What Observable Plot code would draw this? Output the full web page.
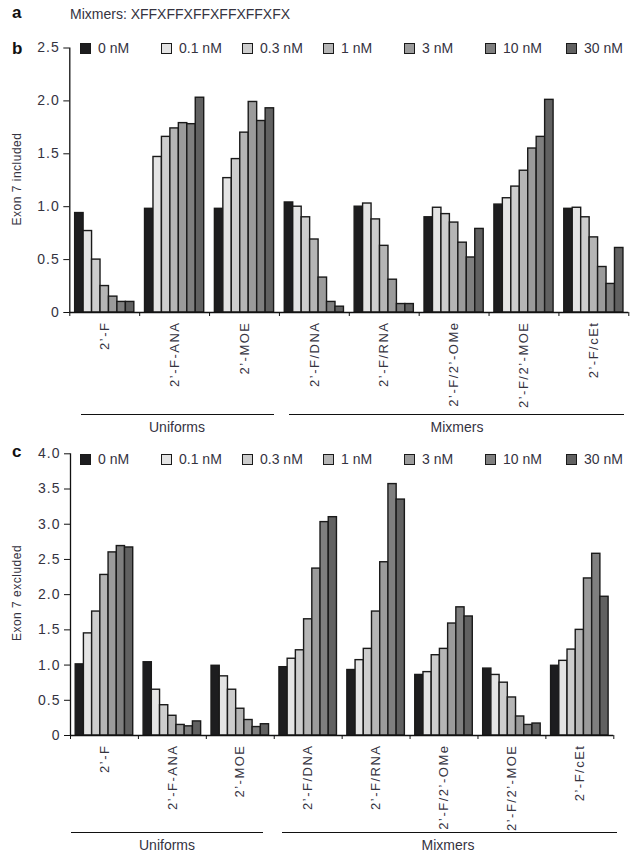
<!DOCTYPE html>
<html><head><meta charset="utf-8">
<script src="https://cdn.jsdelivr.net/npm/d3@7"></script>
<script src="https://cdn.jsdelivr.net/npm/@observablehq/plot@0.6"></script>
<style>
body{margin:0;background:#fff;}
#wrap{position:relative;width:639px;height:858px;font-family:"Liberation Sans",Arial,sans-serif;color:#35333f;overflow:hidden;background:#fff}
.abs{position:absolute;white-space:nowrap;line-height:1}
.panel{position:absolute;left:0}
.legend{position:absolute;left:80px;display:flex;font-size:14px;line-height:14px;color:#35333f}
.legend .item{width:81px;display:flex;align-items:center}
.legend .sw{width:9px;height:9px;border:1px solid #1a1a1a;margin-right:7px;flex:none}
.ytitle{position:absolute;font-size:12px;letter-spacing:0.5px;white-space:nowrap;transform:translate(-50%,-50%) rotate(-90deg)}
.bracket{position:absolute;border-top:1.5px solid #111;height:0}
.btext{position:absolute;font-size:14px;white-space:nowrap;transform:translate(-50%,-50%)}
.plab{font-weight:bold;font-size:17px;color:#111}
g[aria-label="x-axis tick label"] text{letter-spacing:1.5px}
g[aria-label="y-axis tick label"] text{letter-spacing:1px}
</style>
</head><body>
<div id="wrap"></div>
<script>
// ---- data ----
const groups = ["2’-F","2’-F-ANA","2’-MOE","2’-F/DNA","2’-F/RNA","2’-F/2’-OMe","2’-F/2’-MOE","2’-F/cEt"];
const concentrations = ["0 nM","0.1 nM","0.3 nM","1 nM","3 nM","10 nM","30 nM"];
const concColors = ["#1d1d1f","#e4e4e4","#cdcdcd","#b5b5b5","#9b9b9b","#7f7f7f","#616161"];
const groupSets = ["Uniforms","Mixmers"];
// Exon 7 included (panel b): one row per chemistry, one value per concentration
const includedValues = [
  [0.94,0.77,0.50,0.25,0.15,0.10,0.10],
  [0.98,1.47,1.66,1.74,1.79,1.78,2.03],
  [0.98,1.27,1.45,1.70,1.99,1.81,1.93],
  [1.04,1.00,0.90,0.69,0.33,0.10,0.055],
  [1.00,1.03,0.88,0.63,0.31,0.08,0.08],
  [0.90,0.99,0.93,0.85,0.66,0.52,0.79],
  [1.02,1.08,1.19,1.34,1.55,1.66,2.01],
  [0.98,0.99,0.90,0.71,0.43,0.27,0.61]
];
// Exon 7 excluded (panel c)
const excludedValues = [
  [1.01,1.45,1.76,2.28,2.60,2.69,2.67],
  [1.04,0.65,0.43,0.28,0.15,0.13,0.20],
  [0.99,0.84,0.65,0.38,0.22,0.12,0.16],
  [0.97,1.09,1.21,1.65,2.37,3.03,3.10],
  [0.93,1.07,1.23,1.76,2.46,3.57,3.35],
  [0.86,0.90,1.14,1.23,1.59,1.82,1.69],
  [0.95,0.86,0.75,0.54,0.27,0.15,0.17],
  [0.99,1.06,1.22,1.50,2.23,2.58,1.97]
];
const yTicksIncluded = [0,0.5,1.0,1.5,2.0,2.5];
const yTicksExcluded = [0,0.5,1.0,1.5,2.0,2.5,3.0,3.5,4.0];

// ---- drawing ----
const wrap = document.getElementById("wrap");
const nC = concentrations.length, nG = groups.length;
const barW = 0.121, pad = (1 - nC*barW)/2;
const fmt = d => d === 0 ? "0" : d.toFixed(1);

function rowsFrom(values){
  const rows = [];
  values.forEach((vals, gi) => vals.forEach((v, ci) => rows.push({group: groups[gi], conc: concentrations[ci], gi, ci, value: v})));
  return rows;
}

function makePanel(values, yTicks, opts){
  const ymax = yTicks[yTicks.length-1];
  const boundaries = d3.range(nG+1);
  const centers = groups.map((g,i) => i + 0.5);
  return Plot.plot({
    width: 639, height: opts.height,
    marginTop: opts.mt, marginBottom: opts.mb, marginLeft: opts.ml, marginRight: opts.mr,
    style: {fontFamily: '"Liberation Sans", Arial, sans-serif', fontSize: "13px", color: "#35333f", background: "transparent", overflow: "visible"},
    x: {domain: [0, nG]},
    y: {domain: [0, ymax]},
    color: {domain: concentrations, range: concColors},
    marks: [
      Plot.rectY(rowsFrom(values), {
        x1: d => d.gi + pad + d.ci*barW,
        x2: d => d.gi + pad + (d.ci+1)*barW,
        y1: 0, y2: "value", fill: "conc", stroke: "#1a1a1a", strokeWidth: 1.4
      }),
      Plot.ruleY([0], {stroke: "#111", strokeWidth: 1.5}),
      Plot.ruleX([0], {y1: 0, y2: ymax, stroke: "#111", strokeWidth: 1.3}),
      Plot.axisY({ticks: yTicks, tickFormat: fmt, tickSize: 6, tickPadding: 4, fontSize: 14, label: null, stroke: "#111"}),
      Plot.axisX({ticks: boundaries, tickFormat: () => "", tickSize: 4, label: null, stroke: "#111"}),
      Plot.axisX({ticks: centers, tickFormat: d => groups[Math.floor(d)], tickSize: 0, tickPadding: 9, tickRotate: -90, fontSize: 13, label: null})
    ]
  });
}

function place(el, left, top){ el.style.left = left + "px"; el.style.top = top + "px"; return el; }
function div(cls, text){ const e = document.createElement("div"); e.className = cls; if (text != null) e.textContent = text; wrap.appendChild(e); return e; }

function legend(top){
  const lg = div("legend"); lg.style.top = top + "px";
  concentrations.forEach((c, i) => {
    const it = document.createElement("div"); it.className = "item";
    const sw = document.createElement("span"); sw.className = "sw"; sw.style.background = concColors[i];
    const tx = document.createElement("span"); tx.textContent = c;
    it.appendChild(sw); it.appendChild(tx); lg.appendChild(it);
  });
}

function bracket(x1, x2, y, label, cx){
  const b = div("bracket"); b.style.left = x1 + "px"; b.style.width = (x2 - x1) + "px"; b.style.top = y + "px";
  place(div("btext", label), cx, y + 13);
}

// panel b
const pb = makePanel(includedValues, yTicksIncluded, {height: 440, mt: 47.5, mb: 128, ml: 69.3, mr: 10.7});
pb.classList.add("panel"); pb.style.top = "0px"; wrap.appendChild(pb);
// panel c
const pc = makePanel(excludedValues, yTicksExcluded, {height: 418, mt: 13.3, mb: 123, ml: 70, mr: 25.7});
pc.classList.add("panel"); pc.style.top = "440px"; wrap.appendChild(pc);

// labels
place(div("abs plab", "a"), 12, 4);
place(div("abs", "Mixmers: XFFXFFXFFXFFXFFXFX"), 70, 7).style.fontSize = "14px";
place(div("abs plab", "b"), 12, 40);
place(div("abs plab", "c"), 12, 443);
place(div("ytitle", "Exon 7 included"), 17, 179);
place(div("ytitle", "Exon 7 excluded"), 17, 593);
legend(41);
legend(452);
bracket(81, 274, 414, groupSets[0], 177);
bracket(289, 624, 414, groupSets[1], 457);
bracket(71, 263, 832, groupSets[0], 167);
bracket(282, 617, 832, groupSets[1], 448);
</script>
</body></html>
